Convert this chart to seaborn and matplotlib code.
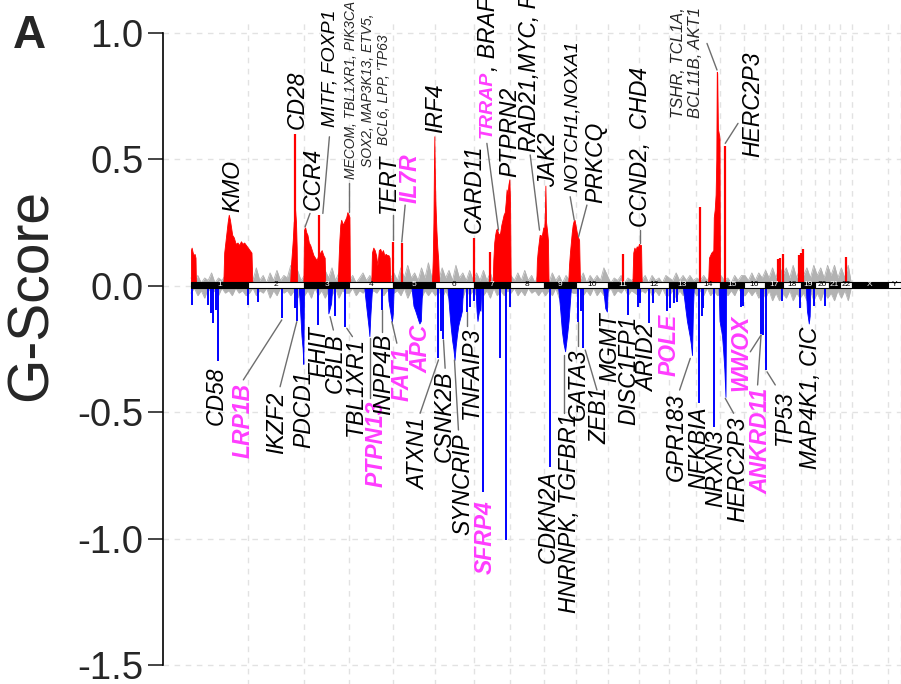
import numpy as np
import matplotlib
matplotlib.use("Agg")
import matplotlib.pyplot as plt
import seaborn as sns

# ---------------- data ----------------
CHROM_NAMES = [str(i) for i in range(1, 23)] + ["X", "Y"]
CHROM_LEN_MB = [249.25, 243.20, 198.02, 191.15, 180.92, 171.12, 159.14, 146.36,
                141.21, 135.53, 135.01, 133.85, 115.17, 107.35, 102.53, 90.35,
                81.20, 78.08, 59.13, 63.03, 48.13, 51.30, 155.27, 59.37]

GREY_STEP_MB = 15
GREY_AMP = [
    0.03, 0.01, 0.04, 0.01, 0.03, 0.02, 0.05, 0.01, 0.03, 0.02, 0.04, 0.02, 0.03, 0.01, 0.04, 0.02, 0.03,
    0.05, 0.02, 0.07, 0.02, 0.04, 0.01, 0.05, 0.02, 0.06, 0.02, 0.04, 0.03, 0.08, 0.03, 0.06, 0.02,
    0.04, 0.02, 0.03, 0.01, 0.05, 0.02, 0.06, 0.03, 0.07, 0.02, 0.05, 0.02, 0.03,
    0.02, 0.04, 0.01, 0.03, 0.05, 0.02, 0.04, 0.01, 0.05, 0.02, 0.04, 0.02, 0.03,
    0.05, 0.02, 0.07, 0.03, 0.08, 0.03, 0.05, 0.02, 0.07, 0.03, 0.09, 0.03,
    0.06, 0.02, 0.07, 0.03, 0.06, 0.02, 0.08, 0.03, 0.05, 0.02, 0.06, 0.02,
    0.05, 0.02, 0.06, 0.02, 0.05, 0.01, 0.04, 0.02, 0.04, 0.02,
    0.04, 0.02, 0.05, 0.02, 0.06, 0.02, 0.04, 0.01, 0.05, 0.02,
    0.03, 0.01, 0.05, 0.02, 0.04, 0.01, 0.04, 0.02, 0.04,
    0.04, 0.02, 0.05, 0.01, 0.04, 0.02, 0.04, 0.02, 0.07,
    0.04, 0.01, 0.03, 0.02, 0.04, 0.01, 0.03, 0.02, 0.03,
    0.03, 0.02, 0.04, 0.01, 0.04, 0.02, 0.03, 0.01, 0.04,
    0.03, 0.02, 0.05, 0.02, 0.04, 0.02, 0.04, 0.02,
    0.03, 0.02, 0.04, 0.02, 0.04, 0.02, 0.03,
    0.04, 0.02, 0.03, 0.01, 0.04, 0.02, 0.04,
    0.04, 0.02, 0.05, 0.02, 0.05, 0.03,
    0.06, 0.03, 0.07, 0.03, 0.08, 0.04,
    0.07, 0.03, 0.08, 0.03, 0.07,
    0.04, 0.07, 0.03, 0.08,
    0.04, 0.07, 0.03, 0.08,
    0.04, 0.08, 0.03,
    0.07, 0.03, 0.08, 0.00]
GREY_DEL = [
    0.03, 0.01, 0.04, 0.02, 0.05, 0.01, 0.03, 0.02, 0.04, 0.01, 0.03, 0.02, 0.04, 0.01, 0.03, 0.02, 0.04,
    0.03, 0.01, 0.04, 0.02, 0.03, 0.01, 0.05, 0.02, 0.04, 0.01, 0.03, 0.02, 0.04, 0.02, 0.05, 0.02,
    0.04, 0.02, 0.05, 0.01, 0.04, 0.02, 0.05, 0.02, 0.04, 0.01, 0.05, 0.02, 0.03,
    0.03, 0.01, 0.04, 0.02, 0.03, 0.01, 0.04, 0.02, 0.03, 0.01, 0.04, 0.02, 0.03,
    0.03, 0.02, 0.04, 0.01, 0.05, 0.02, 0.04, 0.01, 0.05, 0.02, 0.04, 0.02,
    0.04, 0.02, 0.05, 0.02, 0.05, 0.02, 0.04, 0.02, 0.05, 0.01, 0.04, 0.02,
    0.04, 0.02, 0.04, 0.02, 0.05, 0.01, 0.04, 0.02, 0.04, 0.02,
    0.03, 0.01, 0.04, 0.02, 0.04, 0.01, 0.03, 0.02, 0.04, 0.02,
    0.04, 0.02, 0.04, 0.01, 0.05, 0.02, 0.04, 0.02, 0.03,
    0.03, 0.01, 0.04, 0.02, 0.04, 0.01, 0.04, 0.02, 0.04,
    0.03, 0.01, 0.04, 0.02, 0.03, 0.01, 0.04, 0.02, 0.03,
    0.04, 0.02, 0.03, 0.01, 0.04, 0.02, 0.04, 0.01, 0.04,
    0.04, 0.02, 0.05, 0.02, 0.04, 0.01, 0.04, 0.02,
    0.04, 0.02, 0.04, 0.01, 0.04, 0.02, 0.04,
    0.03, 0.01, 0.04, 0.02, 0.04, 0.01, 0.03,
    0.04, 0.02, 0.04, 0.02, 0.05, 0.02,
    0.05, 0.02, 0.06, 0.03, 0.06, 0.03,
    0.05, 0.02, 0.06, 0.03, 0.05,
    0.03, 0.06, 0.02, 0.06,
    0.03, 0.06, 0.02, 0.05,
    0.03, 0.06, 0.02,
    0.05, 0.02, 0.06, 0.00]

# significant amplification regions (genome Mb, G-score)
AMP_REGION_X = [
    [0, 3, 8, 12, 16, 20, 22],
    [141, 145, 150, 155, 160, 165, 170, 175, 180, 187, 195, 203, 210, 218, 225, 232, 240, 248, 256, 264, 268],
    [432, 436, 440, 444, 448, 451, 454, 458, 461, 463],
    [490, 493, 498, 503, 508, 514, 520, 527, 534, 541, 548, 555, 563, 570, 577, 583, 586],
    [640, 643, 647, 651, 655, 659, 663, 667, 672, 677, 682, 687, 691, 693],
    [786, 789, 795, 801, 807, 813, 819, 825, 831, 837, 843, 849, 855, 861, 866, 869],
    [1050, 1054, 1057, 1059, 1061, 1063, 1066, 1070, 1074, 1078, 1082],
    [1315, 1318, 1322, 1326, 1330, 1334, 1338, 1343, 1348, 1353, 1358, 1363, 1368, 1372, 1376, 1380, 1384, 1388, 1391, 1394],
    [1505, 1508, 1512, 1516, 1520, 1524, 1528, 1532, 1536, 1540, 1543, 1545, 1548, 1552, 1556, 1559],
    [1644, 1648, 1652, 1656, 1660, 1664, 1668, 1672, 1676, 1680, 1684, 1688, 1692, 1696],
    [1924, 1928, 1933, 1938, 1943, 1948, 1953, 1958, 1962, 1965],
    [2254, 2258, 2263, 2268, 2273, 2277, 2279, 2283, 2287, 2290, 2292, 2294, 2297, 2299, 2301, 2304, 2306],
]
AMP_REGION_Y = [
    [0.14, 0.15, 0.13, 0.12, 0.125, 0.11, 0.0],
    [0.0, 0.13, 0.17, 0.21, 0.25, 0.28, 0.26, 0.23, 0.20, 0.19, 0.165, 0.17, 0.16, 0.175, 0.165, 0.17, 0.16, 0.15, 0.14, 0.13, 0.0],
    [0.0, 0.08, 0.13, 0.18, 0.25, 0.27, 0.30, 0.25, 0.15, 0.0],
    [0.0, 0.22, 0.23, 0.21, 0.20, 0.17, 0.16, 0.14, 0.12, 0.11, 0.10, 0.12, 0.13, 0.14, 0.12, 0.11, 0.0],
    [0.0, 0.09, 0.18, 0.24, 0.26, 0.25, 0.24, 0.25, 0.26, 0.27, 0.29, 0.28, 0.27, 0.0],
    [0.0, 0.13, 0.15, 0.14, 0.12, 0.08, 0.14, 0.145, 0.13, 0.14, 0.12, 0.125, 0.12, 0.12, 0.11, 0.0],
    [0.0, 0.10, 0.25, 0.45, 0.59, 0.45, 0.32, 0.22, 0.15, 0.10, 0.0],
    [0.0, 0.10, 0.17, 0.20, 0.22, 0.225, 0.21, 0.20, 0.21, 0.24, 0.26, 0.28, 0.29, 0.33, 0.38, 0.36, 0.40, 0.42, 0.33, 0.0],
    [0.0, 0.10, 0.14, 0.17, 0.20, 0.20, 0.19, 0.21, 0.23, 0.22, 0.30, 0.395, 0.25, 0.22, 0.18, 0.0],
    [0.0, 0.08, 0.13, 0.17, 0.21, 0.24, 0.255, 0.26, 0.24, 0.22, 0.20, 0.19, 0.18, 0.0],
    [0.0, 0.13, 0.15, 0.14, 0.155, 0.15, 0.165, 0.16, 0.16, 0.0],
    [0.0, 0.11, 0.12, 0.13, 0.135, 0.14, 0.27, 0.30, 0.36, 0.50, 0.845, 0.84, 0.62, 0.61, 0.60, 0.58, 0.0],
]
AMP_SPIKE_POS = [455, 544, 560, 882.7, 919, 1235, 1304, 1882, 2220, 2330, 2560, 2566, 2580, 2650, 2658, 2668, 2855]
AMP_SPIKE_VAL = [0.60, 0.10, 0.28, 0.173, 0.168, 0.187, 0.134, 0.125, 0.311, 0.55, 0.105, 0.11, 0.125, 0.12, 0.13, 0.143, 0.114]

# significant deletion regions (genome Mb, G-score)
DEL_REGION_X = [
    [470, 476, 482, 487, 490, 493],
    [596, 599, 605, 611, 616],
    [755, 759, 765, 770, 775, 778, 782, 786, 790],
    [858, 861, 868, 876, 880, 884],
    [960, 964, 970, 978, 985, 992, 996, 1002, 1006, 1010],
    [1118, 1123, 1128, 1133, 1139, 1144, 1149, 1154, 1159, 1165, 1170, 1176, 1181, 1186],
    [1240, 1245, 1249, 1254, 1258, 1262, 1266],
    [1600, 1605, 1610, 1617, 1624, 1631, 1639, 1646, 1653, 1657],
    [1795, 1799, 1806, 1813, 1817],
    [2143, 2147, 2155, 2162, 2168, 2174, 2179, 2184, 2188, 2192],
    [2300, 2304, 2310, 2315, 2320, 2325, 2330, 2333],
    [2680, 2685, 2690, 2693, 2697, 2700],
]
DEL_REGION_Y = [
    [0.0, -0.10, -0.20, -0.25, -0.31, 0.0],
    [0.0, -0.11, -0.09, -0.07, 0.0],
    [0.0, -0.04, -0.09, -0.13, -0.17, -0.20, -0.12, -0.06, 0.0],
    [0.0, -0.06, -0.10, -0.143, -0.11, 0.0],
    [0.0, -0.03, -0.08, -0.10, -0.12, -0.14, -0.15, -0.14, -0.05, 0.0],
    [0.0, -0.06, -0.12, -0.17, -0.22, -0.25, -0.294, -0.24, -0.20, -0.16, -0.14, -0.12, -0.10, 0.0],
    [0.0, -0.10, -0.14, -0.11, -0.09, -0.10, 0.0],
    [0.0, -0.05, -0.10, -0.18, -0.23, -0.26, -0.20, -0.14, -0.05, 0.0],
    [0.0, -0.03, -0.09, -0.103, 0.0],
    [0.0, -0.03, -0.09, -0.14, -0.17, -0.20, -0.23, -0.275, -0.10, 0.0],
    [0.0, -0.14, -0.17, -0.20, -0.26, -0.33, -0.44, 0.0],
    [0.0, -0.10, -0.13, -0.15, -0.12, 0.0],
]
DEL_SPIKE_POS = [3.5, 76, 86, 98, 108, 119.5, 250, 294, 396, 454, 461, 553, 628, 672, 835,
                 1079, 1089, 1098, 1203, 1217, 1232, 1272.5, 1345, 1374, 1392, 1563, 1689,
                 1700, 1711, 1905, 1947, 1958, 1998, 2014, 2075, 2086, 2107, 2118, 2215,
                 2226, 2233, 2281, 2398, 2406, 2485, 2494, 2508, 2577, 2656, 2714, 2765]
DEL_SPIKE_VAL = [-0.077, -0.077, -0.11, -0.15, -0.095, -0.30, -0.077, -0.064, -0.13, -0.087,
                 -0.14, -0.156, -0.12, -0.163, -0.097, -0.287, -0.18, -0.21, -0.103, -0.085,
                 -0.06, -0.815, -0.287, -1.006, -0.085, -0.716, -0.143, -0.10, -0.248, -0.117,
                 -0.085, -0.07, -0.15, -0.07, -0.10, -0.09, -0.07, -0.065, -0.466, -0.12,
                 -0.09, -0.558, -0.085, -0.08, -0.19, -0.196, -0.334, -0.06, -0.09, -0.08, -0.08]

# gene labels: (text, genome Mb, G anchor, highlighted)
AMP_LABELS = [("KMO", 182, 0.29, False), ("CD28", 464, 0.62, False), ("CCR4", 534, 0.298, False),
              ("TERT", 862.6, 0.285, False), ("IL7R", 955.5, 0.325, True), ("IRF4", 1064.5, 0.602, False),
              ("CARD11", 1234.6, 0.206, False),
              ("PTPRN2", 1388.5, 0.43, False), ("RAD21,MYC, RECQL4", 1475.8, 0.529, False),
              ("JAK2", 1558.6, 0.39, False), ("PRKCQ", 1765.3, 0.325, False),
              ("CCND2,  CHD4", 1961.6, 0.232, False), ("HERC2P3", 2448, 0.509, False)]
TRRAP_LABEL = ("TRRAP", ", BRAF", 1290, 0.582)
AMP_LABELS_MID = [("MITF, FOXP1", 607, 0.628), ("NOTCH1,NOXA1", 1660.7, 0.371)]
MECOM_TEXT = "MECOM, TBL1XR1, PIK3CA\nSOX2, MAP3K13, ETV5,\nBCL6, LPP, 'TP63"
TSHR_TEXT = "TSHR, TCL1A,\nBCL11B, AKT1"
DEL_LABELS = [("CD58", 112.5, -0.321, False), ("LRP1B", 226, -0.387, True), ("IKZF2", 374, -0.42, False),
              ("PDCD1", 493, -0.334, False), ("FHIT", 555.6, -0.16, False), ("CBLB", 628.4, -0.189, False),
              ("TBL1XR1", 718.7, -0.202, False), ("PTPN13", 806, -0.453, True), ("INPP4B", 839, -0.189, False),
              ("FAT1", 919.3, -0.242, True), ("APC", 1002, -0.156, True), ("ATXN1", 991.7, -0.525, False),
              ("CSNK2B", 1104, -0.334, False), ("SYNCRIP", 1183.6, -0.584, False), ("TNFAIP3", 1224.6, -0.163, False),
              ("SFRP4", 1282.6, -0.848, True), ("CDKN2A", 1558.6, -0.729, False),
              ("HNRNPK, TGFBR1", 1649, -0.505, False), ("GATA3", 1689.4, -0.248, False),
              ("ZEB1", 1784, -0.40, False), ("MGMT", 1824, -0.105, False), ("DISC1FP1", 1910, -0.117, False),
              ("ARID2", 1990, -0.156, False), ("POLE", 2085, -0.11, True), ("GPR183", 2114, -0.426, False),
              ("NFKBIA", 2212.8, -0.479, False), ("NRXN3", 2288.6, -0.571, False), ("HERC2P3", 2383, -0.519, False),
              ("WWOX", 2397.7, -0.117, True), ("ANKRD11", 2485, -0.406, True), ("TP53", 2587.6, -0.413, False),
              ("MAP4K1, CIC", 2700, -0.163, False)]
LEADERS = [((497.6, 0.232), (519, 0.285)), ((575, 0.285), (603.6, 0.588)), ((689.5, 0.292), (689.5, 0.404)),
           ((882.7, 0.178), (882.7, 0.28)), ((919, 0.172), (933.7, 0.318)), ((1340.6, 0.219), (1290, 0.562)),
           ((1519.4, 0.219), (1478.8, 0.516)), ((1670.7, 0.259), (1653, 0.351)), ((1689.5, 0.193), (1726, 0.318)),
           ((1958.5, 0.168), (1958.5, 0.219)), ((2293, 0.852), (2249.4, 0.957)), ((2329, 0.562), (2384.6, 0.641)),
           ((396, -0.136), (228.5, -0.373)), ((461.4, -0.143), (388.6, -0.40)), ((606.6, -0.123), (621, -0.176)),
           ((679.4, -0.169), (704, -0.202)), ((781, -0.208), (781, -0.445)), ((834.7, -0.097), (834.7, -0.183)),
           ((875.7, -0.143), (897.5, -0.228)), ((1079, -0.294), (999, -0.505)), ((1100.7, -0.215), (1108, -0.327)),
           ((1148.7, -0.294), (1166, -0.571)), ((1202.8, -0.103), (1202.8, -0.16)), ((1624, -0.274), (1624, -0.505)),
           ((1685, -0.143), (1685, -0.24)), ((1718.7, -0.255), (1769.7, -0.413)), ((2176.5, -0.288), (2130, -0.413)),
           ((2329, -0.446), (2365.4, -0.505)), ((2485, -0.196), (2438.2, -0.262)), ((2485, -0.196), (2470, -0.393)),
           ((2511, -0.341), (2547, -0.393))]

Y_TICKS = [-1.5, -1.0, -0.5, 0.0, 0.5, 1.0]
Y_TICK_LABELS = ["-1.5", "-1.0", "-0.5", "0.0", "0.5", "1.0"]

# ---------------- drawing ----------------
sns.set_style("white")
plt.rcParams["font.family"] = ["Liberation Sans", "DejaVu Sans"]

RED = "#FF0000"
BLUE = "#0000FF"
GREY = "#B2B2B2"
MAGENTA = "#FF3CFF"
GRID = "#E2E2E2"

W, H = 901, 684
fig = plt.figure(figsize=(W / 100, H / 100), dpi=100)
ax = fig.add_axes([163 / W, (H - 690.3) / H, (W - 163) / W, (690.3 - 19.9) / H])
ax.set_xlim(-121.7, 3095)
ax.set_ylim(-1.6, 1.05)

chrom_len = np.array(CHROM_LEN_MB)
chrom_end = np.cumsum(chrom_len)
chrom_start = chrom_end - chrom_len

# grid
for b in chrom_end:
    ax.axvline(b, color=GRID, lw=1.0, ls=(0, (4, 4)), zorder=0)
for yv in Y_TICKS:
    ax.axhline(yv, color=GRID, lw=1.0, ls=(0, (4, 4)), zorder=0)

# grey background profiles
xg = np.arange(len(GREY_AMP)) * GREY_STEP_MB
amp = np.array(GREY_AMP)
dele = -np.array(GREY_DEL)
ax.fill_between(xg, 0, amp, color=GREY, lw=0, zorder=1)
ax.fill_between(xg, 0, dele, color=GREY, lw=0, zorder=1)
sns.lineplot(x=xg, y=amp, color=GREY, lw=0.6, ax=ax, zorder=1)
sns.lineplot(x=xg, y=dele, color=GREY, lw=0.6, ax=ax, zorder=1)

# significant regions
for xs, ys in zip(AMP_REGION_X, AMP_REGION_Y):
    ax.fill_between(xs, 0, ys, color=RED, lw=0.6, edgecolor=RED, zorder=2)
ax.vlines(AMP_SPIKE_POS, 0, AMP_SPIKE_VAL, color=RED, lw=1.6, zorder=2)
for xs, ys in zip(DEL_REGION_X, DEL_REGION_Y):
    ax.fill_between(xs, 0, ys, color=BLUE, lw=0.6, edgecolor=BLUE, zorder=2)
ax.vlines(DEL_SPIKE_POS, 0, DEL_SPIKE_VAL, color=BLUE, lw=1.4, zorder=2)

# chromosome bar
bar_cols = ["black" if i % 2 == 0 else "white" for i in range(len(CHROM_NAMES))]
ax.bar(chrom_start, 0.024, width=chrom_len, bottom=-0.009, align="edge",
       color=bar_cols, edgecolor="black", lw=0.8, zorder=5)
for i, name in enumerate(CHROM_NAMES):
    ax.text(chrom_start[i] + chrom_len[i] / 2, 0.003, name, fontsize=6,
            ha="center", va="center", color="white" if i % 2 == 0 else "black", zorder=6)

# leader lines
for (x0, y0), (x1, y1) in LEADERS:
    ax.plot([x0, x1], [y0, y1], color="#6E6E6E", lw=1.0, clip_on=False, zorder=3)

LBL = 16.5
for txt, x, y, hl in AMP_LABELS:
    ax.text(x, y, txt, rotation=90, ha="center", va="bottom", style="italic",
            fontsize=LBL, color=MAGENTA if hl else "black",
            fontweight="bold" if hl else "normal", zorder=7)
for txt, x, y in AMP_LABELS_MID:
    ax.text(x, y, txt, rotation=90, ha="center", va="bottom", style="italic",
            fontsize=14, color="black", zorder=7)
ax.text(770, 0.773, MECOM_TEXT, rotation=90, ha="center", va="center", style="italic",
        fontsize=10, multialignment="center", linespacing=1.25, zorder=7)
ax.text(2163.5, 0.664, TSHR_TEXT, rotation=90, ha="center", va="bottom", style="italic",
        fontsize=12, multialignment="left", zorder=7)
for txt, x, y, hl in DEL_LABELS:
    ax.text(x, y, txt, rotation=90, ha="center", va="top", style="italic",
            fontsize=LBL, color=MAGENTA if hl else "black",
            fontweight="bold" if hl else "normal", zorder=7)

# TRRAP (highlighted) followed by ", BRAF"
t1, t2, tx, ty = TRRAP_LABEL
tr = ax.text(tx, ty, t1, rotation=90, ha="center", va="bottom", style="italic",
             fontsize=14, color=MAGENTA, fontweight="bold", zorder=7)
fig.canvas.draw()
bb = tr.get_window_extent(renderer=fig.canvas.get_renderer())
y_after = ax.transData.inverted().transform((bb.x0, bb.y1))[1]
ax.text(tx + 5, y_after, t2, rotation=90, ha="center", va="bottom", style="italic",
        fontsize=LBL, color="black", zorder=7)

# axes styling
for s in ["top", "right", "bottom"]:
    ax.spines[s].set_visible(False)
ax.spines["left"].set_bounds(-1.5, 1.0)
ax.spines["left"].set_linewidth(1.2)
ax.spines["left"].set_color("black")
ax.set_xticks([])
ax.set_yticks(Y_TICKS)
ax.set_yticklabels(Y_TICK_LABELS)
ax.tick_params(axis="y", length=11, width=1.2, labelsize=27.5, pad=3, direction="out", left=True)
ax.set_ylabel("")

fig.text(32 / W, (H - 295) / H, "G-Score", rotation=90, ha="center", va="center", fontsize=41)
fig.text(13 / W, (H - 14) / H, "A", ha="left", va="top", fontsize=33, fontweight="bold")

fig.savefig("out.png", dpi=100)
